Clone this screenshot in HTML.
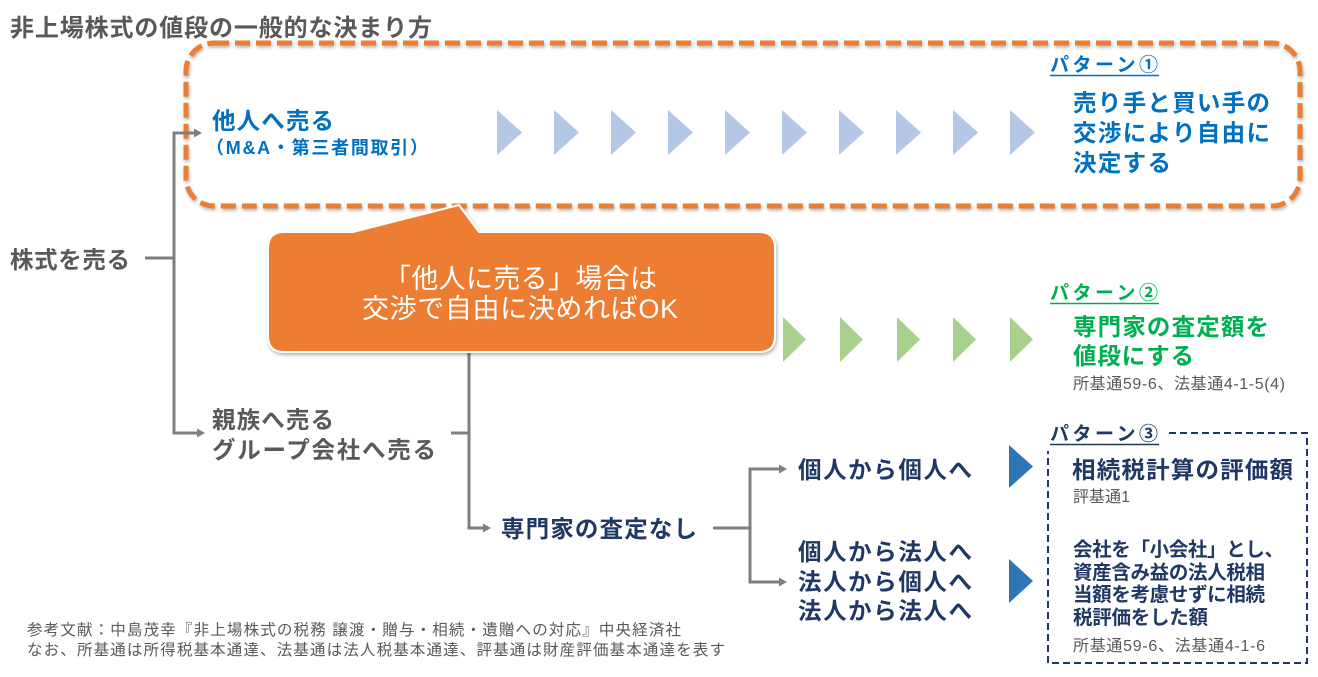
<!DOCTYPE html>
<html>
<head>
<meta charset="utf-8">
<style>
  html,body{margin:0;padding:0;background:#fff;}
  svg{display:block;}
  text{font-family:"Liberation Sans","Noto Sans CJK JP",sans-serif;}
  .b{font-weight:bold;}
</style>
</head>
<body>
<svg width="1318" height="677" viewBox="0 0 1318 677" xmlns="http://www.w3.org/2000/svg">
  <defs>
    <filter id="sh" x="-5%" y="-10%" width="110%" height="130%">
      <feDropShadow dx="1" dy="2" stdDeviation="1.5" flood-color="#000" flood-opacity="0.3"/>
    </filter>
  </defs>
  <rect x="0" y="0" width="1318" height="677" fill="#fff"/>

  <!-- Title -->
  <text x="10" y="36" font-size="24" class="b" fill="#595959" textLength="422">非上場株式の値段の一般的な決まり方</text>

  <!-- Orange dashed box -->
  <rect x="186" y="43" width="1114" height="163" rx="28" ry="28" fill="none" stroke="#ED7D31" stroke-width="5" stroke-dasharray="15 6" filter="url(#sh)"/>

  <!-- Connector lines -->
  <g stroke="#7F7F7F" stroke-width="3" fill="none">
    <line x1="145" y1="258" x2="174" y2="258"/>
    <line x1="174" y1="131.5" x2="174" y2="434.5"/>
    <line x1="172.5" y1="133" x2="195" y2="133"/>
    <line x1="172.5" y1="433" x2="198" y2="433"/>
    <line x1="451" y1="433" x2="469" y2="433"/>
    <line x1="469" y1="352" x2="469" y2="529.5"/>
    <line x1="467.5" y1="528" x2="484" y2="528"/>
    <line x1="713" y1="528" x2="750" y2="528"/>
    <line x1="750" y1="467.5" x2="750" y2="583.5"/>
    <line x1="748.5" y1="469" x2="780" y2="469"/>
    <line x1="748.5" y1="582" x2="780" y2="582"/>
  </g>
  <g fill="#7F7F7F">
    <polygon points="194,128.5 202,133 194,137.5"/>
    <polygon points="197,428.5 205,433 197,437.5"/>
    <polygon points="483,523.5 491,528 483,532.5"/>
    <polygon points="779,464.5 787,469 779,473.5"/>
    <polygon points="779,577.5 787,582 779,586.5"/>
  </g>

  <!-- Left labels -->
  <text x="10" y="268" font-size="23.5" class="b" fill="#595959" textLength="120">株式を売る</text>
  <text x="212" y="129" font-size="23.5" class="b" fill="#0070C0" textLength="122">他人へ売る</text>
  <text x="206" y="154" font-size="18" class="b" fill="#0070C0" textLength="222">（M&amp;A・第三者間取引）</text>
  <text x="212" y="428" font-size="23.5" class="b" fill="#595959" textLength="122">親族へ売る</text>
  <text x="212" y="458" font-size="23.5" class="b" fill="#595959" textLength="224">グループ会社へ売る</text>

  <!-- Light blue triangles -->
  <g fill="#B4C7E7">
    <polygon points="497,110 522,132.5 497,155"/>
    <polygon points="554,110 579,132.5 554,155"/>
    <polygon points="611,110 636,132.5 611,155"/>
    <polygon points="668,110 693,132.5 668,155"/>
    <polygon points="725,110 750,132.5 725,155"/>
    <polygon points="782,110 807,132.5 782,155"/>
    <polygon points="839,110 864,132.5 839,155"/>
    <polygon points="896,110 921,132.5 896,155"/>
    <polygon points="953,110 978,132.5 953,155"/>
    <polygon points="1010,110 1035,132.5 1010,155"/>
  </g>

  <!-- Pattern 1 -->
  <text x="1050" y="71" font-size="19" class="b" fill="#0070C0" textLength="108">パターン①</text>
  <line x1="1050" y1="75.5" x2="1159" y2="75.5" stroke="#0070C0" stroke-width="1.5"/>
  <text x="1073" y="111" font-size="23.5" class="b" fill="#0070C0" textLength="197">売り手と買い手の</text>
  <text x="1073" y="141" font-size="23.5" class="b" fill="#0070C0" textLength="197">交渉により自由に</text>
  <text x="1073" y="171" font-size="23.5" class="b" fill="#0070C0" textLength="98">決定する</text>

  <!-- Callout -->
  <path d="M284,232 L353,232 L459,205 L479,232 L759,232 Q775,232 775,248 L775,336 Q775,352 759,352 L284,352 Q268,352 268,336 L268,248 Q268,232 284,232 Z" fill="#ED7D31" stroke="#ffffff" stroke-width="2" filter="url(#sh)"/>
  <text x="384" y="288" font-size="27" fill="#ffffff" textLength="273">「他人に売る」場合は</text>
  <text x="362" y="318" font-size="27" fill="#ffffff" textLength="316">交渉で自由に決めればOK</text>

  <!-- Green triangles -->
  <g fill="#A9D18E">
    <polygon points="783,317 806,339.5 783,362"/>
    <polygon points="840,317 863,339.5 840,362"/>
    <polygon points="897,317 920,339.5 897,362"/>
    <polygon points="953,317 976,339.5 953,362"/>
    <polygon points="1010,317 1033,339.5 1010,362"/>
  </g>

  <!-- Pattern 2 -->
  <text x="1050" y="299" font-size="19" class="b" fill="#00B050" textLength="108">パターン②</text>
  <line x1="1050" y1="303.5" x2="1159" y2="303.5" stroke="#00B050" stroke-width="1.5"/>
  <text x="1073" y="335" font-size="23.5" class="b" fill="#00B050" textLength="196">専門家の査定額を</text>
  <text x="1073" y="364" font-size="23.5" class="b" fill="#00B050" textLength="121">値段にする</text>
  <text x="1073" y="389" font-size="16" fill="#595959" textLength="212">所基通59-6、法基通4-1-5(4)</text>

  <!-- Middle labels -->
  <text x="501" y="537" font-size="23.5" class="b" fill="#203864" textLength="196">専門家の査定なし</text>
  <text x="798" y="478" font-size="23.5" class="b" fill="#203864" textLength="174">個人から個人へ</text>
  <text x="798" y="560" font-size="23.5" class="b" fill="#203864" textLength="174">個人から法人へ</text>
  <text x="798" y="590" font-size="23.5" class="b" fill="#203864" textLength="174">法人から個人へ</text>
  <text x="798" y="619" font-size="23.5" class="b" fill="#203864" textLength="174">法人から法人へ</text>

  <!-- Dark blue triangles -->
  <g fill="#2E75B6">
    <polygon points="1009,445 1033,466.5 1009,488"/>
    <polygon points="1009,559 1033,581 1009,603"/>
  </g>

  <!-- Pattern 3 dashed box -->
  <rect x="1048" y="433" width="259" height="230" fill="none" stroke="#203864" stroke-width="2" stroke-dasharray="7 4"/>
  <rect x="1040" y="418" width="128" height="33" fill="#ffffff"/>
  <text x="1050" y="440" font-size="19" class="b" fill="#203864" textLength="108">パターン③</text>
  <line x1="1050" y1="444.5" x2="1159" y2="444.5" stroke="#203864" stroke-width="1.5"/>
  <text x="1072" y="478" font-size="23.5" class="b" fill="#203864" textLength="221">相続税計算の評価額</text>
  <text x="1073" y="502" font-size="16" fill="#595959" textLength="57">評基通1</text>
  <text x="1073" y="556" font-size="19.5" class="b" fill="#203864" textLength="211">会社を「小会社」とし、</text>
  <text x="1073" y="579" font-size="19.5" class="b" fill="#203864" textLength="192">資産含み益の法人税相</text>
  <text x="1073" y="601" font-size="19.5" class="b" fill="#203864" textLength="192">当額を考慮せずに相続</text>
  <text x="1073" y="624" font-size="19.5" class="b" fill="#203864" textLength="135">税評価をした額</text>
  <text x="1073" y="651" font-size="16" fill="#595959" textLength="192">所基通59-6、法基通4-1-6</text>

  <!-- Footer -->
  <text x="27" y="635" font-size="15.5" fill="#595959" textLength="654">参考文献：中島茂幸『非上場株式の税務 譲渡・贈与・相続・遺贈への対応』中央経済社</text>
  <text x="27" y="655" font-size="15.5" fill="#595959" textLength="698">なお、所基通は所得税基本通達、法基通は法人税基本通達、評基通は財産評価基本通達を表す</text>
</svg>
</body>
</html>
